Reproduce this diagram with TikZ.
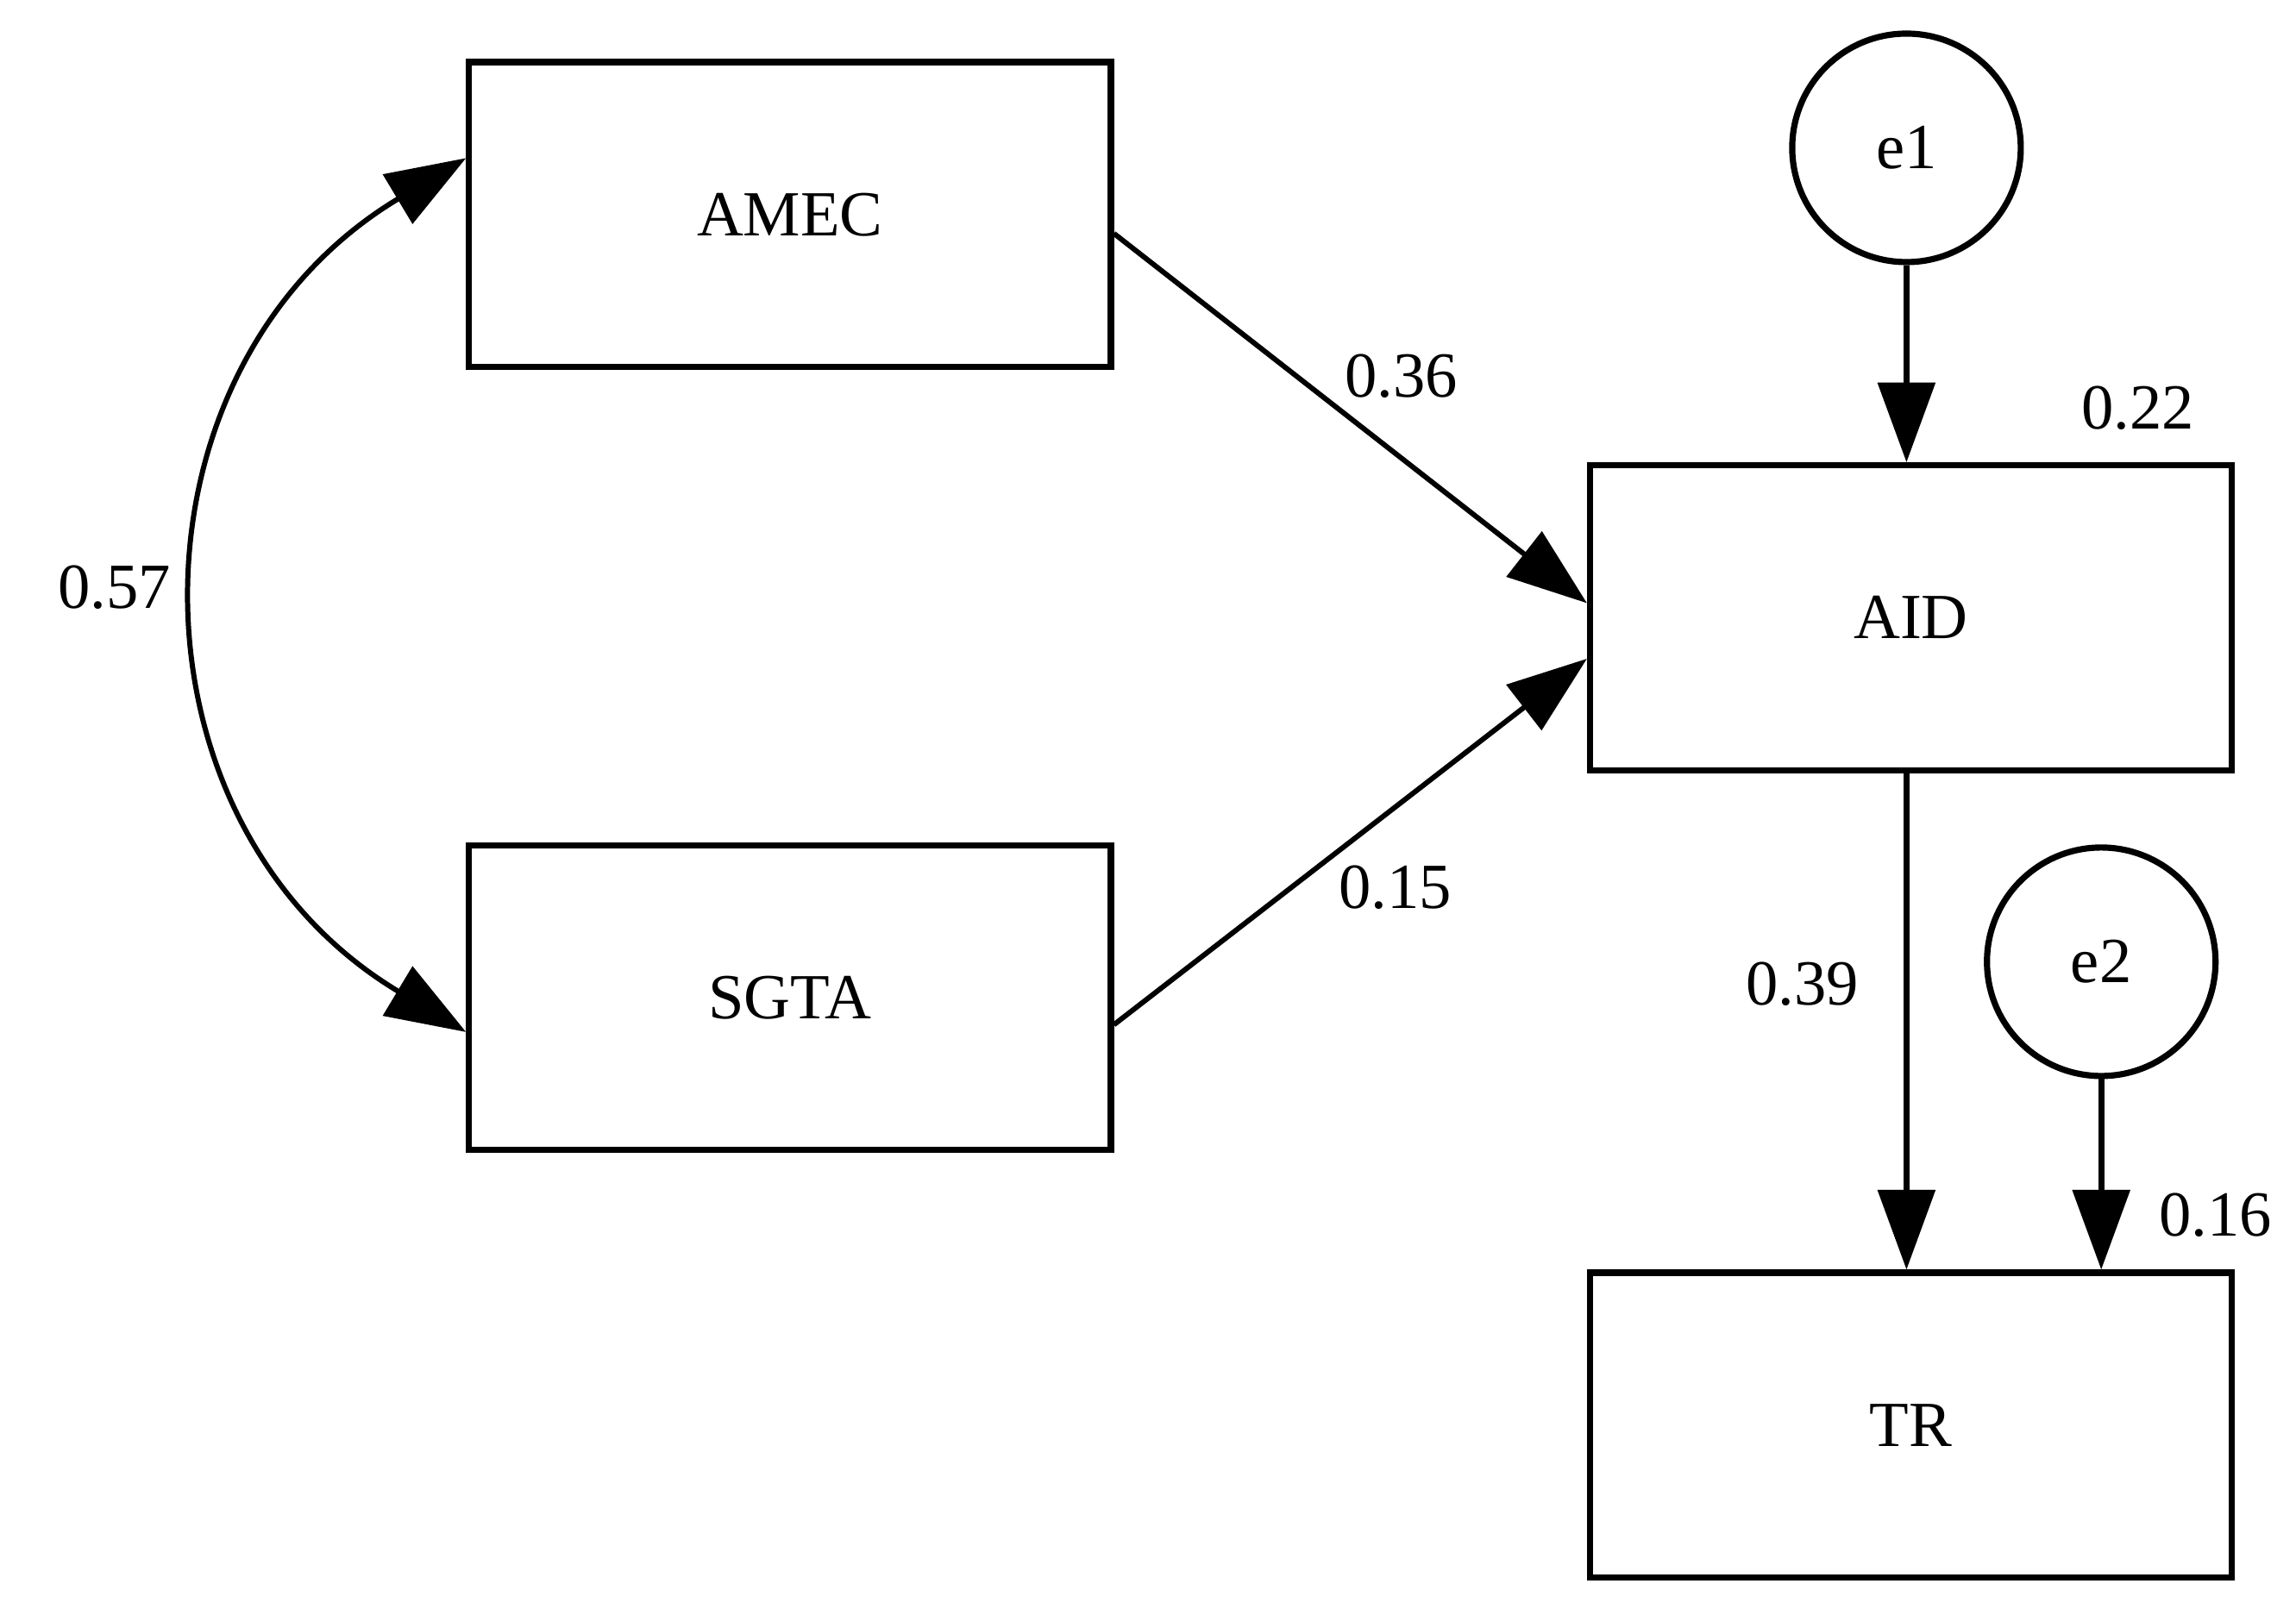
\documentclass[tikz,border=0pt]{standalone}
\usepackage{fontspec}
\setmainfont{Liberation Serif}
\usetikzlibrary{arrows.meta,calc}
\begin{document}
\begin{tikzpicture}[x=0.01cm,y=-0.01cm,
  every node/.style={font=\fontsize{12.5}{15}\selectfont},
  box/.style={draw, line width=1.2pt, minimum width=4.38cm, minimum height=2.08cm, inner sep=0pt},
  err/.style={draw, circle, line width=1.2pt, minimum size=1.56cm, inner sep=0pt},
  lbl/.style={inner sep=0pt},
  paththin/.style={line width=1.0pt, -{Triangle[length=15.5pt,width=11pt]}},
  paththick/.style={line width=1.2pt, -{Triangle[length=15.5pt,width=11pt]}},
  cov/.style={line width=1.0pt, {Triangle[length=15.5pt,width=11pt]}-{Triangle[length=15.5pt,width=11pt]}}]
\useasboundingbox (0,0) rectangle (1568,1103);
\node[box] (AMEC) at (539.5,146.5) {AMEC};
\node[box] (SGTA) at (539.5,681.5) {SGTA};
\node[box] (AID) at (1305,422) {AID};
\node[box] (TR) at (1305,973.5) {TR};
\node[err] (e1) at (1302,101) {e1};
\node[err] (e2) at (1435,657) {e2};
% paths
\draw[paththin] ($(AMEC.east)+(0,13)$) -- ($(AID.west)+(0,-10)$);
\draw[paththin] ($(SGTA.east)+(0,18.5)$) -- ($(AID.west)+(0,28)$);
\draw[paththick] (e1.south) -- (e1.south |- AID.north);
\draw[paththick] (AID.south -| e1.south) -- (e1.south |- TR.north);
\draw[paththick] (e2.south) -- (e2.south |- TR.north);
\draw[cov] ($(AMEC.west)+(0,-38.5)$) .. controls (80,251) and (80,562) .. ($(SGTA.west)+(0,23.5)$);
% labels
\node[lbl] (l36) at (957,257) {0.36};
\node[lbl] (l15) at (953,606) {0.15};
\node[lbl] (l57) at (78,401) {0.57};
\node[lbl] (l22) at (1460,279) {0.22};
\node[lbl] (l39) at (1231,672) {0.39};
\node[lbl] (l16) at (1513,830) {0.16};
\end{tikzpicture}
\end{document}
